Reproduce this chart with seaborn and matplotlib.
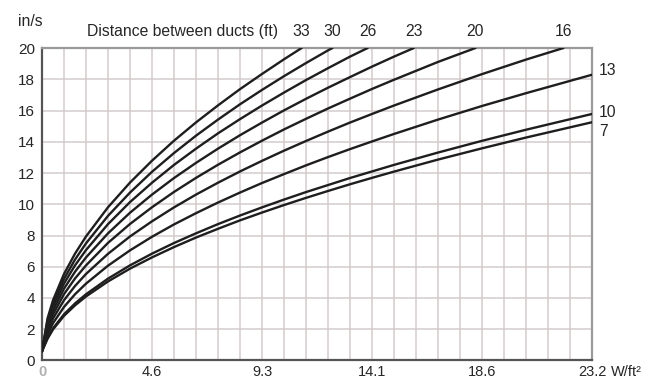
import pandas as pd
import seaborn as sns
import matplotlib.pyplot as plt

# x axis in chart grid units (25 divisions = 23.2 W/ft2), y in in/s
u_pts = [0, 0.25, 0.5, 1, 1.5, 2, 3, 4, 5, 6, 7, 8, 9, 10, 11, 12, 13, 14, 15, 16, 18, 20, 22, 25]

# distance between ducts (ft) -> values
v_33 = [0.6, 2.69, 3.86, 5.54, 6.84, 7.94, 9.81, 11.39, 12.79, 14.07, 15.24, 16.33, 17.37, 18.34, 19.28]
v_30 = [0.6, 2.54, 3.65, 5.23, 6.46, 7.50, 9.26, 10.75, 12.08, 13.28, 14.39, 15.42, 16.40, 17.32, 18.20,
        19.04, 19.85]
v_26 = [0.6, 2.40, 3.44, 4.93, 6.09, 7.07, 8.73, 10.14, 11.38, 12.52, 13.56, 14.54, 15.45, 16.32, 17.15,
        17.95, 18.71, 19.45]
v_23 = [0.6, 2.24, 3.21, 4.60, 5.68, 6.60, 8.14, 9.46, 10.62, 11.68, 12.65, 13.56, 14.42, 15.23, 16.01,
        16.75, 17.46, 18.14, 18.81, 19.45]
v_20 = [0.6, 2.07, 2.96, 4.25, 5.25, 6.09, 7.53, 8.74, 9.81, 10.79, 11.69, 12.53, 13.32, 14.07, 14.79,
        15.47, 16.13, 16.76, 17.38, 17.97, 19.11]
v_16 = [0.6, 1.88, 2.69, 3.86, 4.77, 5.54, 6.83, 7.94, 8.91, 9.80, 10.62, 11.38, 12.10, 12.78, 13.43,
        14.05, 14.65, 15.23, 15.78, 16.32, 17.35, 18.33, 19.26]
v_13 = [0.6, 1.67, 2.39, 3.43, 4.24, 4.92, 6.07, 7.05, 7.92, 8.71, 9.43, 10.11, 10.75, 11.36, 11.93,
        12.49, 13.02, 13.53, 14.02, 14.50, 15.42, 16.29, 17.11, 18.29]
v_10 = [0.6, 1.44, 2.06, 2.96, 3.65, 4.24, 5.24, 6.09, 6.84, 7.52, 8.14, 8.73, 9.28, 9.80, 10.30,
        10.78, 11.23, 11.68, 12.10, 12.52, 13.31, 14.06, 14.77, 15.78]
v_7 = [0.6, 1.39, 1.99, 2.86, 3.53, 4.10, 5.06, 5.88, 6.60, 7.26, 7.87, 8.43, 8.97, 9.47, 9.95,
       10.41, 10.85, 11.28, 11.69, 12.09, 12.86, 13.58, 14.27, 15.25]

# where the curves leave the top of the chart (u at 20 in/s)
top_names = ['33', '30', '26', '23', '20', '16']
top_u = [11.8, 13.2, 14.8, 16.9, 19.7, 23.7]
right_names = ['13', '10', '7']

tick_u = [0, 5, 10, 15, 20, 25]
tick_lab = ['0', '4.6', '9.3', '14.1', '18.6', '23.2']

curves = {'33': v_33, '30': v_30, '26': v_26, '23': v_23, '20': v_20,
          '16': v_16, '13': v_13, '10': v_10, '7': v_7}

rows = []
for name, vals in curves.items():
    xs = u_pts[:len(vals)]
    for x, y in zip(xs, vals):
        rows.append([name, x, y])
    if name in top_names:
        rows.append([name, top_u[top_names.index(name)], 20.0])
df = pd.DataFrame(rows, columns=['dist', 'u', 'v'])

sns.set_style('white')
plt.rcParams['font.family'] = ['Liberation Sans', 'DejaVu Sans']

fig = plt.figure(figsize=(6.65, 3.82), dpi=100)
ax = fig.add_axes([0.0632, 0.0563, 0.8271, 0.818])

sns.lineplot(data=df, x='u', y='v', units='dist', estimator=None, sort=False,
             color='#1e1e1e', lw=1.7, ax=ax, zorder=3)

ax.set_xlim(0, 25); ax.set_ylim(0, 20)
ax.set_xticks(range(0, 26), minor=True)
ax.set_xticks(tick_u)
ax.set_xticklabels(tick_lab, fontsize=10.5)
ax.get_xticklabels()[0].set_color('#b0b0b0'); ax.get_xticklabels()[0].set_fontweight('bold')
ax.set_yticks(range(0, 21, 2))
ax.set_yticklabels([str(i) for i in range(0, 21, 2)], fontsize=11)
ax.grid(which='both', color='#d3cbcb', lw=1.1)
ax.tick_params(axis='x', which='both', length=0, pad=3.5)
ax.tick_params(axis='y', length=3, color='#888888', pad=2)
ax.set_xlabel(''); ax.set_ylabel('')

for s in ['left', 'bottom']:
    ax.spines[s].set_color('#555555'); ax.spines[s].set_linewidth(1.6)
for s in ['top', 'right']:
    ax.spines[s].set_color('#9a9a9a'); ax.spines[s].set_linewidth(1.6)

# curve labels
for name, x in zip(top_names, top_u):
    ax.text(x, 20.6, name, ha='center', va='bottom', fontsize=11.3, clip_on=False)
ax.text(6.4, 20.6, 'Distance between ducts (ft)', ha='center', va='bottom', fontsize=11.3, clip_on=False)
offsets = [3, 1, -7]
for name, dy in zip(right_names, offsets):
    ax.annotate(name, (25, curves[name][-1]), xytext=(5, dy), textcoords='offset points',
                ha='left', va='center', fontsize=11.3, annotation_clip=False)

fig.text(0.027, 0.925, 'in/s', fontsize=11.3, ha='left', va='bottom')
fig.text(0.918, 0.025, 'W/ft²', fontsize=10.5, ha='left', va='center')

plt.savefig('out.png', dpi=100)
